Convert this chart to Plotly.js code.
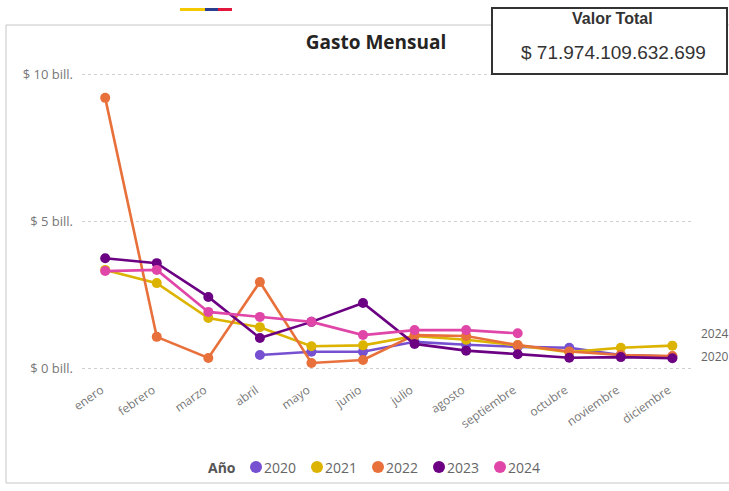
<!DOCTYPE html>
<html>
<head>
<meta charset="utf-8">
<script src="https://cdn.plot.ly/plotly-3.0.1.min.js"></script>
<style>html,body{margin:0;padding:0;background:#fff;overflow:hidden}#chart{width:729px;height:491px}</style>
</head>
<body>
<div id="chart"></div>
<script>
const months = ["enero","febrero","marzo","abril","mayo","junio","julio","agosto","septiembre","octubre","noviembre","diciembre"];
const years = ["2020","2021","2022","2023","2024"];
const colors = ["#7650d0","#dcb400","#e8703a","#6b0083","#e046a8"];
const y2020 = [null,null,null,0.45,0.56,0.56,0.90,0.80,0.73,0.70,0.45,0.40];
const y2021 = [3.35,2.90,1.71,1.40,0.75,0.78,1.10,0.97,0.78,0.55,0.70,0.77];
const y2022 = [9.21,1.07,0.35,2.94,0.18,0.28,1.13,1.10,0.79,0.57,0.45,0.42];
const y2023 = [3.75,3.58,2.43,1.03,1.58,2.22,0.83,0.60,0.48,0.36,0.38,0.34];
const y2024 = [3.31,3.35,1.92,1.75,1.58,1.13,1.30,1.30,1.19,null,null,null];
const yTicks = [0,5,10];
const yTickText = ["$ 0 bill.","$ 5 bill.","$ 10 bill."];
const titleText = "Gasto Mensual";
const legendTitle = "Año";
const totalLabel = "Valor Total";
const totalValue = "$ 71.974.109.632.699";
const endLabels = ["2024","2020"];

const series = [y2020,y2021,y2022,y2023,y2024];
const FONT = "Open Sans, Segoe UI, sans-serif";
const ARIAL = "Liberation Sans, Arial, sans-serif";

// plot-area pixel helpers
const L = 82, R = 693, T = 60, B = 380;
const px = x => (x - L) / (R - L);
const py = y => (B - y) / (B - T);

const traces = series.map((s, i) => ({
  x: months, y: s, type: "scatter", mode: "lines+markers",
  name: years[i], showlegend: false, connectgaps: false,
  line: {color: colors[i], width: 2.6},
  marker: {color: colors[i], size: 10},
  hoverinfo: "skip"
}));

function lastVal(s){ for (let i = s.length-1; i >= 0; i--) if (s[i] !== null) return s[i]; return null; }

const shapes = [
  {type: "rect", xref: "paper", yref: "paper", x0: px(6), x1: px(760), y0: py(483), y1: py(25),
   line: {color: "#c6c6c6", width: 1}, fillcolor: "rgba(0,0,0,0)", layer: "below"},
  {type: "rect", xref: "paper", yref: "paper", x0: px(180), x1: px(205), y0: py(11), y1: py(8), line: {width: 0}, fillcolor: "#f5c800"},
  {type: "rect", xref: "paper", yref: "paper", x0: px(205), x1: px(218), y0: py(11), y1: py(8), line: {width: 0}, fillcolor: "#2b3d8f"},
  {type: "rect", xref: "paper", yref: "paper", x0: px(218), x1: px(232), y0: py(11), y1: py(8), line: {width: 0}, fillcolor: "#e3173e"},
  {type: "rect", xref: "paper", yref: "paper", x0: px(492), x1: px(727), y0: py(74), y1: py(8),
   line: {color: "#333", width: 2}, fillcolor: "#ffffff", layer: "above"}
];

const annotations = [
  {text: "<b>" + totalLabel + "</b>", xref: "paper", yref: "paper", x: px(612), y: py(19),
   xanchor: "center", yanchor: "middle", showarrow: false, font: {family: ARIAL, size: 16, color: "#333"}},
  {text: totalValue, xref: "paper", yref: "paper", x: px(613), y: py(52),
   xanchor: "center", yanchor: "middle", showarrow: false, font: {family: ARIAL, size: 19, color: "#333"}},
  {text: endLabels[0], xref: "paper", yref: "y", x: px(699), y: lastVal(y2024),
   xanchor: "left", yanchor: "middle", showarrow: false, font: {family: FONT, size: 12, color: "#666"}},
  {text: endLabels[1], xref: "paper", yref: "y", x: px(699), y: lastVal(y2020),
   xanchor: "left", yanchor: "middle", showarrow: false, font: {family: FONT, size: 12, color: "#666"}},
  {text: "<b>" + legendTitle + "</b>", xref: "paper", yref: "paper", x: px(238), y: py(467),
   xanchor: "right", yanchor: "middle", showarrow: false, font: {family: FONT, size: 14, color: "#555"}}
];

// manual compact legend
const legStart = 256, legPitch = 61, legY = 467;
years.forEach((yr, i) => {
  const cx = legStart + i * legPitch;
  shapes.push({type: "circle", xref: "paper", yref: "paper", xsizemode: "pixel", ysizemode: "pixel",
    xanchor: px(cx), yanchor: py(legY), x0: -6, x1: 6, y0: -6, y1: 6,
    fillcolor: colors[i], line: {width: 0}});
  annotations.push({text: yr, xref: "paper", yref: "paper", x: px(cx + 6), y: py(legY),
    xanchor: "left", yanchor: "middle", showarrow: false, font: {family: FONT, size: 14, color: "#666"}});
});

const layout = {
  width: 729, height: 491,
  margin: {l: L, r: 729 - R, t: T, b: 491 - B},
  paper_bgcolor: "rgba(0,0,0,0)", plot_bgcolor: "rgba(0,0,0,0)",
  font: {family: FONT, color: "#666"},
  showlegend: false,
  title: {
    text: "<b>" + titleText + "</b>", font: {family: FONT, size: 19, color: "#252423"},
    xref: "paper", x: px(376), xanchor: "center",
    yref: "container", y: 1 - 42/491, yanchor: "middle"
  },
  xaxis: {
    type: "category", categoryorder: "array", categoryarray: months,
    range: [-0.45, 11.4], showgrid: false, zeroline: false, showline: false,
    tickangle: -35, tickfont: {family: FONT, size: 12, color: "#777"}, ticks: "",
    ticklabelshift: -4
  },
  yaxis: {
    range: [-0.4, 10.5], tickvals: yTicks, ticktext: yTickText,
    showgrid: true, gridcolor: "#cfcfcf", griddash: "dot", gridwidth: 1,
    zeroline: false, showline: false, ticks: "", ticklabelstandoff: 8,
    tickfont: {family: FONT, size: 13, color: "#777"}
  },
  shapes: shapes,
  annotations: annotations
};

Plotly.newPlot("chart", traces, layout, {displayModeBar: false, staticPlot: true});
</script>
</body>
</html>
